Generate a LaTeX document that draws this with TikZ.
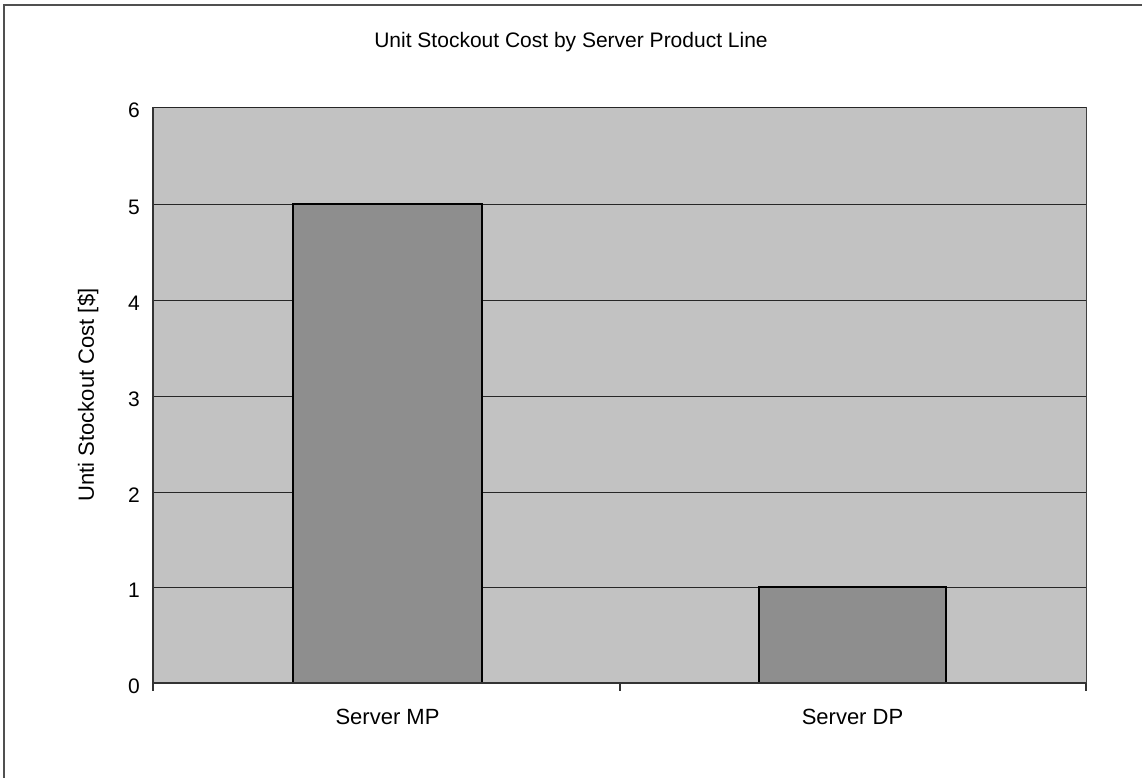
\documentclass[tikz,border=0pt]{standalone}
\usepackage{fontspec}
\setmainfont{Liberation Sans}
\definecolor{plotbg}{HTML}{C2C2C2}
\definecolor{barfill}{HTML}{8E8E8E}
\definecolor{framegray}{HTML}{505050}
\begin{document}
\begin{tikzpicture}[x=1pt,y=-1pt,
  gridline/.style={draw=black!85,line width=0.9pt},
  barbox/.style={draw=black,line width=1.6pt,fill=barfill},
  ticklab/.style={font=\fontsize{21}{21}\selectfont,anchor=east,inner sep=0pt},
  catlab/.style={font=\fontsize{22}{22}\selectfont,inner sep=0pt},
  axisline/.style={draw=black!80,line width=1.2pt}]
\useasboundingbox (0,0) rectangle (1142,778);
\fill[white] (0,0) rectangle (1142,778);
% outer frame (left and top edges visible)
\draw[framegray,line width=1.5pt] (4,778) -- (4,5) -- (1142,5);
% plot area
\coordinate (pTL) at (153,107);
\coordinate (pBR) at (1086,683);
\fill[plotbg] (pTL) rectangle (pBR);
\foreach \v/\yy in {1/587,2/492,3/396,4/300,5/204,6/107}{
  \draw[gridline] (153,\yy) -- (1086,\yy);
}
\draw[draw=black!75,line width=1pt] (1086,107) -- (1086,683);
% bars
\draw[barbox] (293,683) rectangle (482,204);
\draw[barbox] (759,683) rectangle (946,587);
% axes
\draw[axisline] (153,107) -- (153,691);
\draw[axisline] (153,683) -- (1086,683);
\foreach \xx in {620,1086}{\draw[axisline] (\xx,683) -- (\xx,691);}
% tick labels
\foreach \v/\yy in {0/683,1/587,2/492,3/396,4/300,5/204,6/107}{
  \node[ticklab] (t\v) at (140,\yy+3) {\v};
}
\node[catlab] (cMP) at (387.5,717) {Server MP};
\node[catlab] (cDP) at (852.5,717) {Server DP};
\node[font=\fontsize{21}{21}\selectfont,inner sep=0pt] (title) at (571,42) {Unit Stockout Cost by Server Product Line};
\node[font=\fontsize{22}{22}\selectfont,rotate=90,inner sep=0pt] (ytitle) at (88,395) {Unti Stockout Cost [\$]};
\end{tikzpicture}
\end{document}
